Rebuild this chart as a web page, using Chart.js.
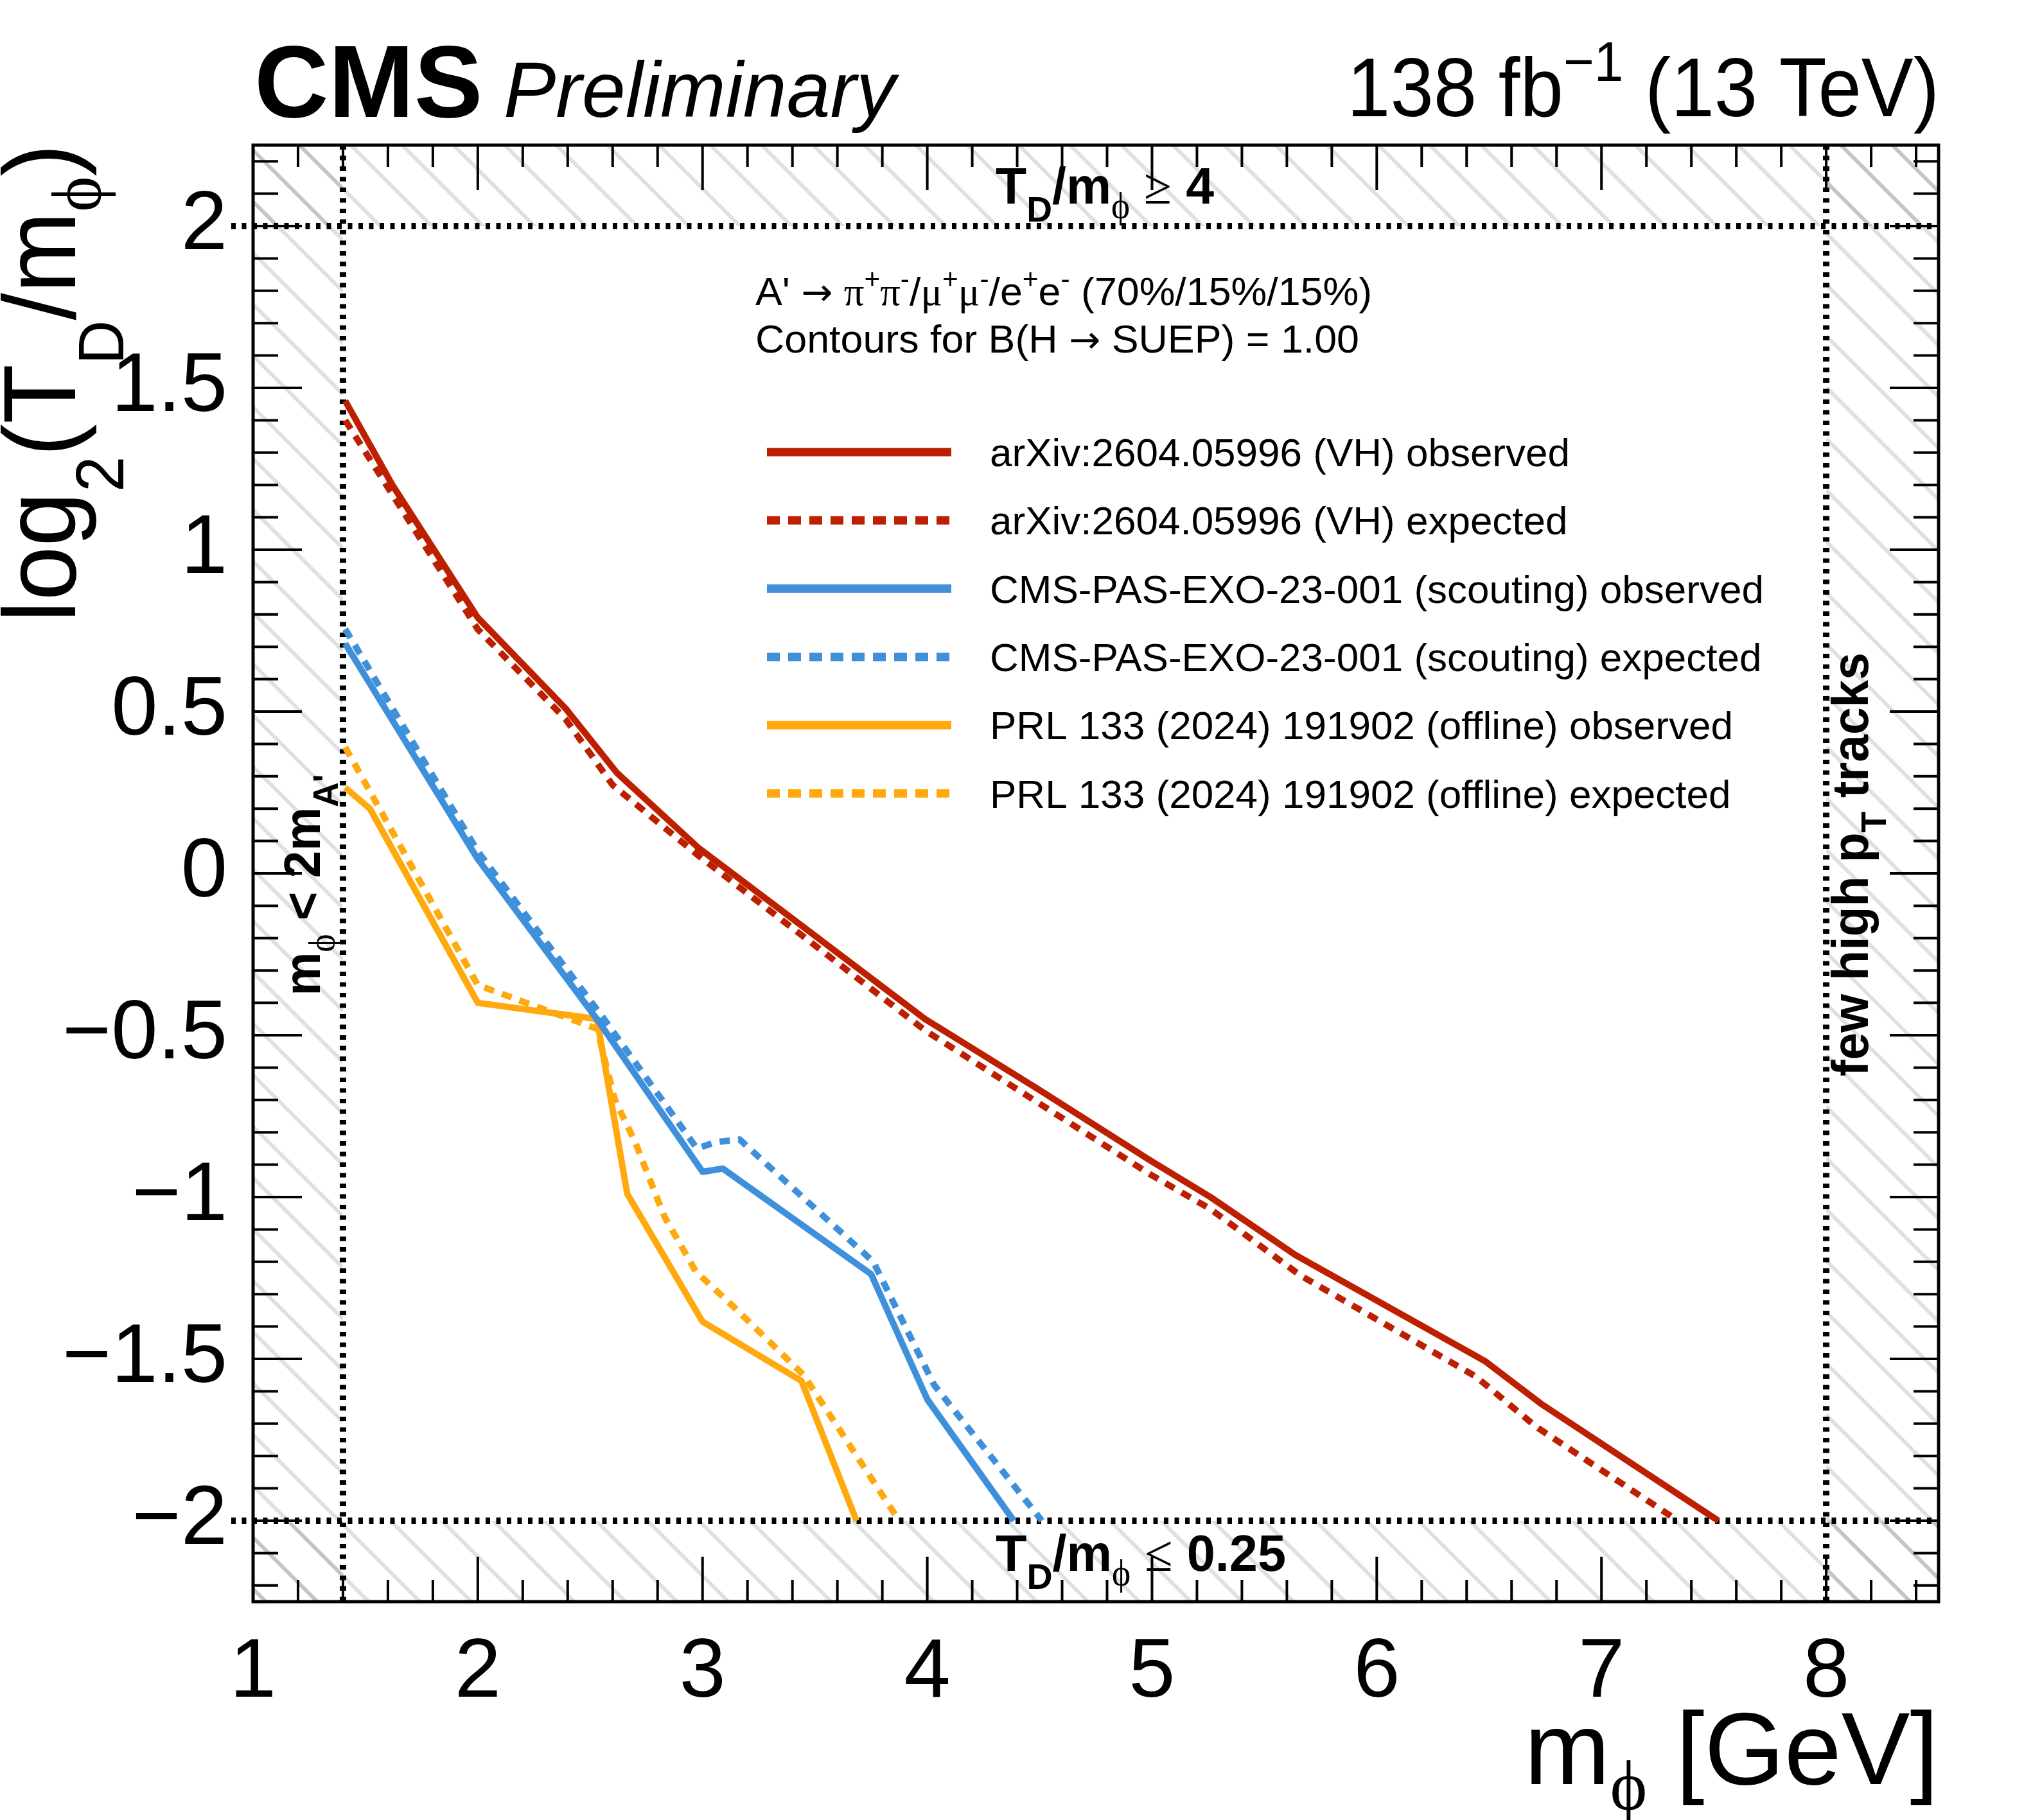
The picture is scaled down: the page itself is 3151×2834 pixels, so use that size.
<!DOCTYPE html>
<html>
<head>
<meta charset="utf-8">
<script src="https://cdn.jsdelivr.net/npm/chart.js@4.4.1/dist/chart.umd.min.js"></script>
<style>
  html, body { margin: 0; padding: 0; background: #fff; }
  #wrap { width: 3151px; height: 2834px; }
</style>
</head>
<body>
<div id="wrap"><canvas id="limits" width="3151" height="2834"></canvas></div>
<script>
// contours: x = m_phi [GeV], y = log2(T_D/m_phi)
const vhObsX = [1.41, 1.62, 2.0, 2.39, 2.62, 2.98, 3.40, 3.99, 4.49, 4.99, 5.26, 5.64, 6.48, 6.73, 7.52];
const vhObsY = [1.46, 1.20, 0.79, 0.51, 0.31, 0.08, -0.14, -0.45, -0.665, -0.886, -1.0, -1.18, -1.506, -1.638, -2.0];
const vhExpX = [1.41, 2.0, 2.39, 2.60, 2.98, 3.99, 4.99, 5.26, 5.66, 6.44, 6.71, 7.34];
const vhExpY = [1.40, 0.754, 0.477, 0.273, 0.056, -0.485, -0.929, -1.037, -1.242, -1.554, -1.71, -2.0];
const scoutObsX = [1.41, 2.0, 2.54, 3.0, 3.09, 3.75, 4.0, 4.385];
const scoutObsY = [0.71, 0.044, -0.46, -0.922, -0.912, -1.238, -1.625, -2.0];
const scoutExpX = [1.41, 2.0, 2.56, 2.975, 3.06, 3.165, 3.76, 4.03, 4.51];
const scoutExpY = [0.755, 0.068, -0.448, -0.85, -0.83, -0.822, -1.2, -1.58, -2.0];
const offObsX = [1.41, 1.52, 2.0, 2.53, 2.665, 3.0, 3.44, 3.685];
const offObsY = [0.265, 0.20, -0.40, -0.45, -0.99, -1.385, -1.568, -2.0];
const offExpX = [1.41, 2.0, 2.53, 2.61, 2.70, 2.83, 2.97, 3.14, 3.45, 3.875];
const offExpY = [0.39, -0.345, -0.48, -0.70, -0.83, -1.06, -1.23, -1.34, -1.55, -2.0];

const seriesLabels = [
  'arXiv:2604.05996 (VH) observed',
  'arXiv:2604.05996 (VH) expected',
  'CMS-PAS-EXO-23-001 (scouting) observed',
  'CMS-PAS-EXO-23-001 (scouting) expected',
  'PRL 133 (2024) 191902 (offline) observed',
  'PRL 133 (2024) 191902 (offline) expected'
];

const xTickValues = [1, 2, 3, 4, 5, 6, 7, 8];
const yTickValues = [-2, -1.5, -1, -0.5, 0, 0.5, 1, 1.5, 2];

// excluded regions (hatched)
const massCut = 1.4;     // m_phi < 2 m_A'
const trackCut = 8;      // few high pT tracks
const tdHigh = 2;        // T_D/m_phi >= 4
const tdLow = -2;        // T_D/m_phi <= 0.25

const SANS = '"Liberation Sans", Arial, Helvetica, sans-serif';
const SERIF = '"Liberation Serif", "DejaVu Serif", serif';
const ARROW = '"DejaVu Sans", sans-serif';

const RED = '#bd1f01', BLUE = '#3f90da', ORANGE = '#ffa90e';
const DOTS = [16, 13];

function pairs(xs, ys) {
  return xs.map((x, i) => ({ x: x, y: ys[i] }));
}

function series(i, xs, ys, color, dashed) {
  return {
    label: seriesLabels[i],
    data: pairs(xs, ys),
    showLine: true,
    borderColor: color,
    backgroundColor: color,
    borderWidth: 10,
    borderDash: dashed ? DOTS : [],
    borderCapStyle: 'butt',
    borderJoinStyle: 'round',
    pointRadius: 0,
    fill: false
  };
}

// draw a run of text pieces (sub/superscripts, mixed fonts);
// fit squeezes the whole run to a given width
function drawRuns(ctx, runs, x, y, align, fit) {
  let w = 0;
  runs.forEach(r => {
    ctx.font = r.f;
    r.w = ctx.measureText(r.t).width;
    w += r.w;
  });
  const k = fit ? fit / w : 1;
  const tw = w * k;
  let cx = align === 'right' ? x - tw : (align === 'center' ? x - tw / 2 : x);
  runs.forEach(r => {
    ctx.save();
    ctx.font = r.f;
    ctx.translate(cx, y + (r.dy || 0));
    ctx.scale(k, 1);
    ctx.fillText(r.t, 0, 0);
    ctx.restore();
    cx += r.w * k;
  });
}

function hatch(ctx, x0, y0, x1, y1) {
  const sp = 80;
  ctx.save();
  ctx.beginPath();
  ctx.rect(x0, y0, x1 - x0, y1 - y0);
  ctx.clip();
  ctx.strokeStyle = 'rgba(0,0,0,0.12)';
  ctx.lineWidth = 6;
  ctx.beginPath();
  const start = Math.floor((y0 - x1) / sp) * sp;
  for (let c = start; c <= y1 - x0; c += sp) {
    ctx.moveTo(x0, x0 + c);
    ctx.lineTo(x1, x1 + c);
  }
  ctx.stroke();
  ctx.restore();
}

const decor = {
  id: 'decor',
  beforeDatasetsDraw(chart) {
    const ctx = chart.ctx;
    const a = chart.chartArea;
    const xs = chart.scales.x, ys = chart.scales.y;
    const xm = xs.getPixelForValue(massCut), xt = xs.getPixelForValue(trackCut);
    const yh = ys.getPixelForValue(tdHigh), yl = ys.getPixelForValue(tdLow);

    hatch(ctx, a.left, a.top, a.right, yh);
    hatch(ctx, a.left, yl, a.right, a.bottom);
    hatch(ctx, a.left, a.top, xm, a.bottom);
    hatch(ctx, xt, a.top, a.right, a.bottom);

    ctx.save();
    ctx.strokeStyle = '#000';
    ctx.lineWidth = 10;
    ctx.setLineDash([7, 9.5]);
    ctx.beginPath();
    ctx.moveTo(a.left - 34, yh); ctx.lineTo(a.right, yh);
    ctx.moveTo(a.left - 34, yl); ctx.lineTo(a.right, yl);
    ctx.moveTo(xm, a.top); ctx.lineTo(xm, a.bottom);
    ctx.moveTo(xt, a.top); ctx.lineTo(xt, a.bottom);
    ctx.stroke();
    ctx.restore();
  },
  afterDraw(chart) {
    const ctx = chart.ctx;
    const a = chart.chartArea;
    const xs = chart.scales.x, ys = chart.scales.y;
    ctx.save();
    ctx.fillStyle = '#000';
    ctx.strokeStyle = '#000';
    ctx.textAlign = 'left';
    ctx.textBaseline = 'alphabetic';

    // frame
    ctx.lineWidth = 5;
    ctx.strokeRect(a.left, a.top, a.right - a.left, a.bottom - a.top);

    // ticks, inside, on all four sides
    ctx.lineWidth = 4;
    ctx.beginPath();
    for (let i = 0; i <= 37; i++) {
      const px = xs.getPixelForValue(1 + i * 0.2);
      const len = i % 5 === 0 ? 70 : 34;
      ctx.moveTo(px, a.bottom); ctx.lineTo(px, a.bottom - len);
      ctx.moveTo(px, a.top); ctx.lineTo(px, a.top + len);
    }
    for (let i = 0; i <= 44; i++) {
      const py = ys.getPixelForValue(-2.2 + i * 0.1);
      const len = i % 5 === 2 ? 76 : 39;
      ctx.moveTo(a.left, py); ctx.lineTo(a.left + len, py);
      ctx.moveTo(a.right, py); ctx.lineTo(a.right - len, py);
    }
    ctx.stroke();

    // header
    drawRuns(ctx, [{ t: 'CMS', f: 'bold 160px ' + SANS }], 396, 182, 'left');
    drawRuns(ctx, [{ t: 'Preliminary', f: 'italic 122px ' + SANS }], 784, 182, 'left');
    drawRuns(ctx, [
      { t: '138 fb', f: '130px ' + SANS },
      { t: '\u22121', f: '88px ' + SANS, dy: -55 },
      { t: ' (13 TeV)', f: '130px ' + SANS }
    ], 3019, 181, 'right', 922);

    // axis titles
    drawRuns(ctx, [
      { t: 'm', f: '160px ' + SANS },
      { t: '\u03D5', f: '110px ' + SERIF, dy: 40 },
      { t: ' [GeV]', f: '160px ' + SANS }
    ], a.right, 2778, 'right');

    ctx.save();
    ctx.translate(117, a.top - 2);
    ctx.rotate(-Math.PI / 2);
    drawRuns(ctx, [
      { t: 'log', f: '160px ' + SANS },
      { t: '2', f: '105px ' + SANS, dy: 75 },
      { t: '(T', f: '160px ' + SANS },
      { t: 'D', f: '100px ' + SANS, dy: 75 },
      { t: '/m', f: '160px ' + SANS },
      { t: '\u03D5', f: '110px ' + SERIF, dy: 40 },
      { t: ')', f: '160px ' + SANS }
    ], 0, 0, 'right', 745);
    ctx.restore();

    // physics text
    const F = '62px ' + SANS, G = '62px ' + SERIF, A = '58px ' + ARROW;
    const SUP = '42px ' + SANS, up = -26;
    drawRuns(ctx, [
      { t: 'A\' ', f: F },
      { t: '\u2192', f: A },
      { t: ' ', f: F },
      { t: '\u03C0', f: G }, { t: '+', f: SUP, dy: up },
      { t: '\u03C0', f: G }, { t: '-', f: SUP, dy: up },
      { t: '/', f: F },
      { t: '\u03BC', f: G }, { t: '+', f: SUP, dy: up },
      { t: '\u03BC', f: G }, { t: '-', f: SUP, dy: up },
      { t: '/e', f: F }, { t: '+', f: SUP, dy: up },
      { t: 'e', f: F }, { t: '-', f: SUP, dy: up },
      { t: ' (70%/15%/15%)', f: F }
    ], 1176, 475, 'left', 960);
    drawRuns(ctx, [
      { t: 'Contours for B(H ', f: F },
      { t: '\u2192', f: A },
      { t: ' SUEP) = 1.00', f: F }
    ], 1176, 549, 'left', 940);

    // legend
    const lx0 = 1194, lx1 = 1481, tx = 1541, ly0 = 704, lstep = 106.3;
    chart.data.datasets.forEach((ds, i) => {
      const y = ly0 + i * lstep;
      ctx.save();
      ctx.strokeStyle = ds.borderColor;
      ctx.lineWidth = ds.borderWidth + 3;
      ctx.lineCap = 'butt';
      ctx.setLineDash(ds.borderDash.length ? [20, 13] : []);
      ctx.beginPath();
      ctx.moveTo(lx0, y); ctx.lineTo(lx1, y);
      ctx.stroke();
      ctx.restore();
      drawRuns(ctx, [{ t: ds.label, f: F }], tx, y + 22, 'left');
    });

    // region labels
    const B = 'bold 80px ' + SANS, BS = 'bold 56px ' + SANS, PHI = '56px ' + SERIF;
    drawRuns(ctx, [
      { t: 'T', f: B }, { t: 'D', f: BS, dy: 28 }, { t: '/m', f: B }, { t: '\u03D5', f: PHI, dy: 22 },
      { t: ' ', f: B }, { t: '\u2265', f: '80px ' + SERIF }, { t: ' 4', f: B }
    ], 1550, 317, 'left', 340);
    drawRuns(ctx, [
      { t: 'T', f: B }, { t: 'D', f: BS, dy: 28 }, { t: '/m', f: B }, { t: '\u03D5', f: PHI, dy: 22 },
      { t: ' ', f: B }, { t: '\u2264', f: '80px ' + SERIF }, { t: ' 0.25', f: B }
    ], 1550, 2446, 'left', 452);

    ctx.save();
    ctx.translate(498, 1378);
    ctx.rotate(-Math.PI / 2);
    drawRuns(ctx, [
      { t: 'm', f: B }, { t: '\u03D5', f: PHI, dy: 22 }, { t: ' < 2m', f: B }, { t: 'A\'', f: BS, dy: 28 }
    ], 0, 0, 'center', 345);
    ctx.restore();

    ctx.save();
    ctx.translate(2908, 1346);
    ctx.rotate(-Math.PI / 2);
    drawRuns(ctx, [
      { t: 'few high p', f: B }, { t: 'T', f: BS, dy: 28 }, { t: ' tracks', f: B }
    ], 0, 0, 'center', 660);
    ctx.restore();

    ctx.restore();
  }
};

const fmt = v => String(v).replace('-', '\u2212');

new Chart(document.getElementById('limits').getContext('2d'), {
  type: 'scatter',
  data: {
    datasets: [
      series(0, vhObsX, vhObsY, RED, false),
      series(1, vhExpX, vhExpY, RED, true),
      series(2, scoutObsX, scoutObsY, BLUE, false),
      series(3, scoutExpX, scoutExpY, BLUE, true),
      series(4, offObsX, offObsY, ORANGE, false),
      series(5, offExpX, offExpY, ORANGE, true)
    ]
  },
  options: {
    responsive: false,
    animation: false,
    devicePixelRatio: 1,
    layout: { padding: { top: 226, right: 133, left: 0, bottom: 0 } },
    plugins: { legend: { display: false }, tooltip: { enabled: false } },
    elements: { line: { tension: 0 } },
    scales: {
      x: {
        type: 'linear', min: 1, max: 8.5,
        grid: { display: false }, border: { display: false },
        ticks: { font: { family: SANS, size: 130 }, color: '#000', padding: 26, maxRotation: 0, autoSkip: false, callback: fmt },
        afterBuildTicks: s => { s.ticks = xTickValues.map(v => ({ value: v })); },
        afterFit: s => { s.height = 340; }
      },
      y: {
        type: 'linear', min: -2.25, max: 2.25,
        grid: { display: false }, border: { display: false },
        ticks: { font: { family: SANS, size: 130 }, color: '#000', padding: 32, autoSkip: false, callback: fmt },
        afterBuildTicks: s => { s.ticks = yTickValues.map(v => ({ value: v })); },
        afterFit: s => { s.width = 394; }
      }
    }
  },
  plugins: [decor]
});
</script>
</body>
</html>
